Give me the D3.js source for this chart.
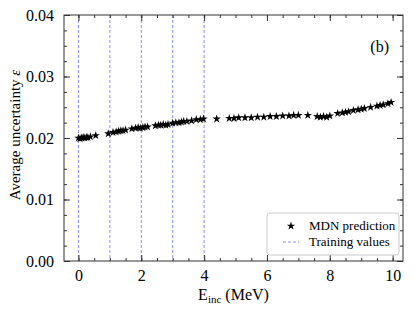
<!DOCTYPE html>
<html>
<head>
<meta charset="utf-8">
<script src="https://cdn.jsdelivr.net/npm/d3@7"></script>
<style>
  body { margin: 0; background: #fff; }
  svg text { font-family: 'Liberation Serif', 'Times New Roman', Times, serif !important; }
</style>
</head>
<body>
<div id="chart"></div>
<script>
  // incident energy (MeV) and average uncertainty
  var energies = [0.00, 0.05, 0.10, 0.15, 0.20, 0.25, 0.30, 0.38, 0.55, 0.95,
    1.10, 1.20, 1.28, 1.35, 1.42, 1.50,
    1.70, 1.82, 1.90, 1.97, 2.05, 2.12, 2.20,
    2.45, 2.55, 2.62, 2.70, 2.78, 2.85,
    3.00, 3.10, 3.20, 3.28, 3.35, 3.45, 3.60, 3.75, 3.88, 3.98,
    4.40, 4.80, 4.95, 5.10, 5.30, 5.50, 5.70, 5.90, 6.10, 6.30, 6.50, 6.70, 6.85,
    7.00, 7.30, 7.60, 7.70, 7.80, 7.90, 8.00, 8.25, 8.40, 8.50, 8.60, 8.75, 8.90,
    9.00, 9.10, 9.30, 9.50, 9.60, 9.70, 9.85, 9.95];
  var uncertainty = [0.0200, 0.0199, 0.0200, 0.0201, 0.0200, 0.0201, 0.0201, 0.0202, 0.0204, 0.0207,
    0.0209, 0.0210, 0.0211, 0.0212, 0.0212, 0.0213,
    0.0215, 0.0216, 0.0217, 0.0216, 0.0217, 0.0218, 0.0218,
    0.0220, 0.0221, 0.0221, 0.0222, 0.0221, 0.0222,
    0.0224, 0.0225, 0.0225, 0.0226, 0.0227, 0.0227, 0.0228, 0.0230, 0.0230, 0.0231,
    0.0231, 0.0232, 0.0232, 0.0233, 0.0233, 0.0233, 0.0234, 0.0234, 0.0235, 0.0235, 0.0236, 0.0236, 0.0237,
    0.0237, 0.0237, 0.0235, 0.0234, 0.0235, 0.0234, 0.0236, 0.0240, 0.0241, 0.0242, 0.0243, 0.0245, 0.0246,
    0.0247, 0.0248, 0.0250, 0.0252, 0.0253, 0.0254, 0.0256, 0.0258];
  var trainingValues = [0, 1, 2, 3, 4];
  var xTicks = [0, 2, 4, 6, 8, 10];
  var yTicks = [0.00, 0.01, 0.02, 0.03, 0.04];
  var legendLabels = ['MDN prediction', 'Training values'];

  var serif = "'Liberation Serif', 'Times New Roman', Times, serif";
  var width = 415, height = 312;
  var margin = { left: 64, right: 12, top: 15, bottom: 51 };
  var pw = width - margin.left - margin.right;
  var ph = height - margin.top - margin.bottom;

  var svg = d3.select('#chart').append('svg')
      .attr('width', width)
      .attr('height', height)
      .attr('font-family', serif);

  var g = svg.append('g')
      .attr('transform', 'translate(' + margin.left + ',' + margin.top + ')');

  var x = d3.scaleLinear().domain([-0.46, 10.33]).range([0, pw]);
  var y = d3.scaleLinear().domain([0, 0.04]).range([ph, 0]);

  // training value lines
  g.selectAll('line.train').data(trainingValues).enter()
      .append('line')
      .attr('class', 'train')
      .attr('x1', function(d) { return x(d); })
      .attr('x2', function(d) { return x(d); })
      .attr('y1', 0).attr('y2', ph)
      .attr('stroke', '#6f6ff5')
      .attr('stroke-width', 0.8)
      .attr('stroke-dasharray', '3,2');

  // ticks on all sides, pointing inward
  var xMinor = d3.range(0, 10.5, 0.5);
  var yMinor = d3.range(0, 0.0401, 0.0025);
  function tickAxis(axis, ticks, size) {
    return axis.tickValues(ticks).tickSizeInner(-size).tickSizeOuter(0).tickFormat('');
  }
  g.append('g').attr('transform', 'translate(0,' + ph + ')')
      .call(tickAxis(d3.axisBottom(x), xMinor, 3));
  g.append('g').call(tickAxis(d3.axisTop(x), xMinor, 3));
  g.append('g').call(tickAxis(d3.axisLeft(y), yMinor, 3));
  g.append('g').attr('transform', 'translate(' + pw + ',0)')
      .call(tickAxis(d3.axisRight(y), yMinor, 3));

  g.append('g').attr('transform', 'translate(0,' + ph + ')')
      .call(d3.axisBottom(x).tickValues(xTicks).tickSizeInner(-6).tickSizeOuter(0).tickPadding(9));
  g.append('g').call(d3.axisTop(x).tickValues(xTicks).tickSizeInner(-6).tickSizeOuter(0).tickFormat(''));
  g.append('g')
      .call(d3.axisLeft(y).tickValues(yTicks).tickSizeInner(-6).tickSizeOuter(0).tickPadding(10)
        .tickFormat(d3.format('.2f')));
  g.append('g').attr('transform', 'translate(' + pw + ',0)')
      .call(d3.axisRight(y).tickValues(yTicks).tickSizeInner(-6).tickSizeOuter(0).tickFormat(''));

  g.selectAll('g').attr('font-family', serif).attr('font-size', 16);
  g.selectAll('.tick line').attr('stroke', '#333');
  g.selectAll('.domain').remove();
  g.selectAll('.tick text').attr('fill', '#000');

  // frame
  g.append('rect').attr('width', pw).attr('height', ph)
      .attr('fill', 'none').attr('stroke', '#333').attr('stroke-width', 1);

  // predictions
  var star = d3.symbol().type(d3.symbolStar).size(22);
  g.selectAll('path.pt').data(energies).enter()
      .append('path')
      .attr('class', 'pt')
      .attr('d', star)
      .attr('transform', function(d, i) {
        return 'translate(' + x(d) + ',' + y(uncertainty[i]) + ')';
      })
      .attr('fill', '#000');

  // panel tag
  g.append('text').attr('x', pw - 14).attr('y', 37)
      .attr('text-anchor', 'end').attr('font-size', 16).text('(b)');

  // axis labels
  var xl = svg.append('text')
      .attr('x', margin.left + pw / 2)
      .attr('y', height - 12)
      .attr('text-anchor', 'middle')
      .attr('font-size', 16);
  xl.append('tspan').text('E');
  xl.append('tspan').attr('font-size', 11).attr('dy', 3).text('inc');
  xl.append('tspan').attr('dy', -3).text(' (MeV)');

  var yl = svg.append('text')
      .attr('transform', 'translate(20,' + (margin.top + ph / 2 - 3) + ') rotate(-90)')
      .attr('text-anchor', 'middle')
      .attr('font-size', 15);
  yl.append('tspan').text('Average uncertainty ');
  yl.append('tspan').attr('font-style', 'italic').text('ε');

  // legend
  var lg = g.append('g').attr('transform', 'translate(' + (pw - 136) + ',' + (ph - 48) + ')');
  lg.append('rect').attr('width', 132).attr('height', 42).attr('rx', 3)
      .attr('fill', '#fff').attr('fill-opacity', 0.8)
      .attr('stroke', '#ccc').attr('stroke-width', 1);
  lg.append('path').attr('d', star).attr('transform', 'translate(24,13)').attr('fill', '#000');
  lg.append('line').attr('x1', 16).attr('x2', 32).attr('y1', 29).attr('y2', 29)
      .attr('stroke', '#6f6ff5').attr('stroke-width', 0.8).attr('stroke-dasharray', '3,2');
  lg.selectAll('text.lab').data(legendLabels).enter()
      .append('text').attr('class', 'lab')
      .attr('x', 42).attr('y', function(d, i) { return 17 + i * 16; })
      .attr('font-size', 13)
      .text(function(d) { return d; });
</script>
</body>
</html>
